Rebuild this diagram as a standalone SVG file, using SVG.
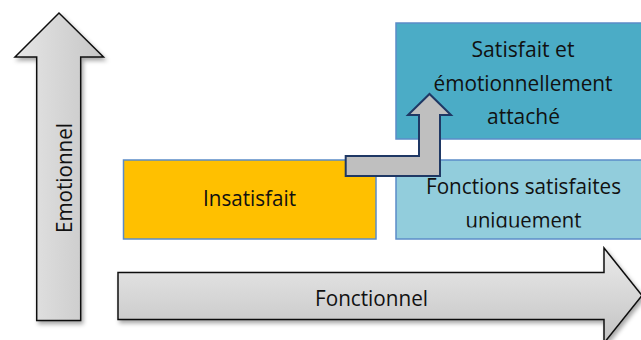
<svg xmlns="http://www.w3.org/2000/svg" width="641" height="340" viewBox="0 0 641 340">
  <defs>
    <style>
      .lbl { font-family: "Open Sans", "Liberation Sans", sans-serif; font-size: 21px; fill: #111111; text-anchor: middle; }
      .box { stroke: #5B8CC8; stroke-width: 1.5; }
      .bigarrow { stroke: #111111; stroke-width: 1.5; stroke-linejoin: miter; filter: url(#shadow); }
    </style>
    <linearGradient id="gH" x1="0" y1="0" x2="0" y2="1">
      <stop offset="0" stop-color="#EBEBEB"/>
      <stop offset="1" stop-color="#C3C3C3"/>
    </linearGradient>
    <linearGradient id="gV" x1="0" y1="0" x2="1" y2="0">
      <stop offset="0" stop-color="#E6E6E6"/>
      <stop offset="1" stop-color="#C6C6C6"/>
    </linearGradient>
    <filter id="shadow" x="-20%" y="-20%" width="140%" height="140%">
      <feDropShadow dx="2" dy="3" stdDeviation="2" flood-color="#000000" flood-opacity="0.35"/>
    </filter>
    <clipPath id="clipF">
      <rect x="396" y="140" width="245" height="87.5"/>
    </clipPath>
  </defs>
  <rect width="641" height="340" fill="#FFFFFF"/>

  <g id="box-satisfait-attache">
    <rect class="box" x="396" y="23" width="250" height="116" fill="#4BACC6"/>
    <text class="lbl" x="523" y="57" textLength="103" lengthAdjust="spacingAndGlyphs">Satisfait et</text>
    <text class="lbl" x="523" y="90.5" textLength="179" lengthAdjust="spacingAndGlyphs">émotionnellement</text>
    <text class="lbl" x="523.5" y="123.5" textLength="73" lengthAdjust="spacingAndGlyphs">attaché</text>
  </g>

  <g id="box-fonctions-satisfaites">
    <rect class="box" x="396" y="160" width="250" height="79" fill="#92CDDC"/>
    <text class="lbl" x="523.5" y="194" textLength="195" lengthAdjust="spacingAndGlyphs">Fonctions satisfaites</text>
    <text class="lbl" x="523.5" y="227.5" textLength="116" lengthAdjust="spacingAndGlyphs" clip-path="url(#clipF)">uniquement</text>
  </g>

  <g id="box-insatisfait">
    <rect class="box" x="123.5" y="160" width="252.5" height="79" fill="#FFC000"/>
    <text class="lbl" x="249.5" y="206" textLength="93" lengthAdjust="spacingAndGlyphs">Insatisfait</text>
  </g>

  <g id="connectors">
    <path d="M345.7,156 L419,156 L419,115 L408,115 L429.5,94 L451,115 L440,115 L440,176 L345.7,176 Z" fill="#BFBFBF" stroke="#1F3864" stroke-width="2" stroke-linejoin="miter"/>
  </g>

  <g id="arrow-fonctionnel">
    <path class="bigarrow" d="M118,272.5 L604,272.5 L604,248 L642,295.5 L604,343 L604,319.5 L118,319.5 Z" fill="url(#gH)"/>
    <text class="lbl" x="371.5" y="305.5" textLength="113" lengthAdjust="spacingAndGlyphs">Fonctionnel</text>
  </g>

  <g id="arrow-emotionnel">
    <path class="bigarrow" d="M36.7,320.5 L36.7,57 L15,57 L59,13 L103.5,57 L80.7,57 L80.7,320.5 Z" fill="url(#gV)"/>
    <text class="lbl" transform="translate(72,178) rotate(-90)" x="0" y="0" textLength="110" lengthAdjust="spacingAndGlyphs">Emotionnel</text>
  </g>
</svg>
